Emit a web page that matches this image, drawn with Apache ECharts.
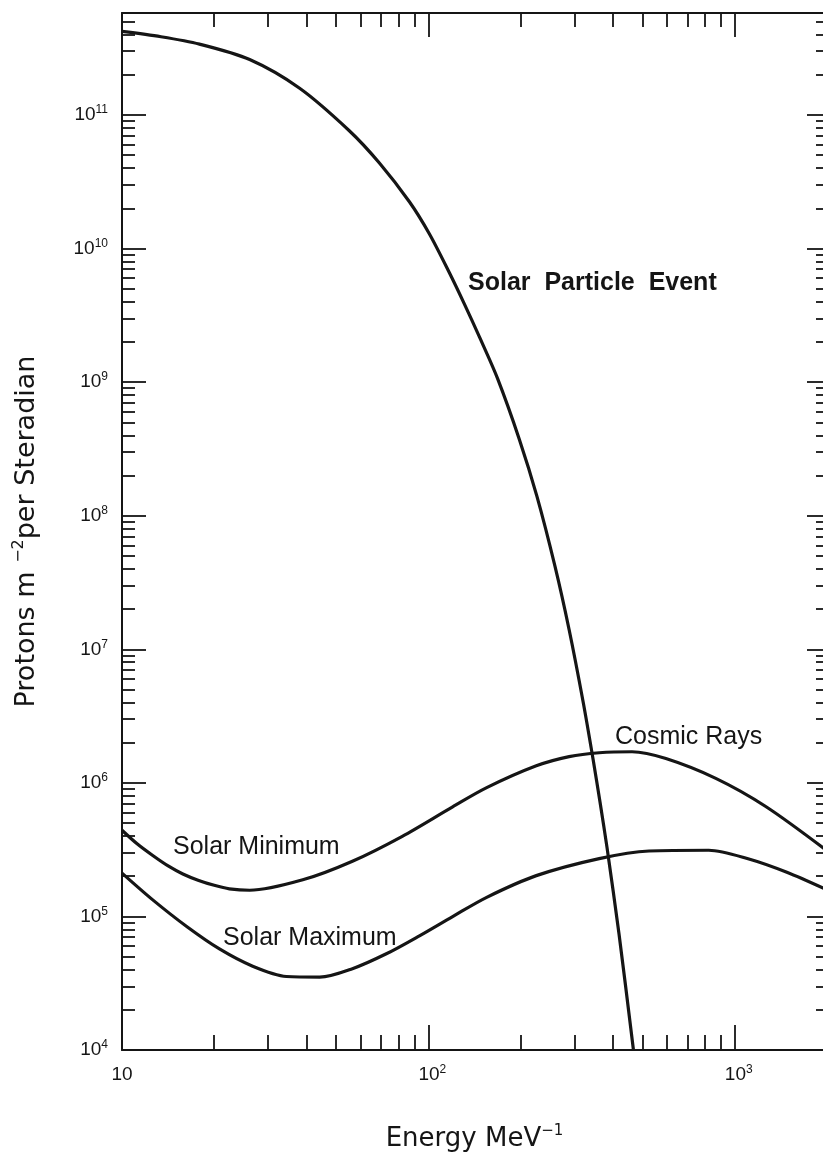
<!DOCTYPE html>
<html><head><meta charset="utf-8">
<script src="https://cdn.jsdelivr.net/npm/echarts@6/dist/echarts.min.js"></script>
<style>html,body{margin:0;padding:0;background:#fff}#c{width:823px;height:1154px}</style>
</head><body><div id="c"></div>
<script>
// ---- data ----
const spEnergy = [10, 13.4, 17.9, 26.1, 38.0, 55.3, 69.2, 86.7, 100.7, 117, 131, 147, 168, 198, 226, 259, 288, 320, 345, 363, 383, 419, 467];
const spFlux   = [4.22e11, 3.85e11, 3.39e11, 2.60e11, 1.585e11, 7.59e10, 4.37e10, 2.24e10, 1.29e10, 6.61e9, 3.85e9, 2.16e9, 1.07e9, 3.74e8, 1.40e8, 4.17e7, 1.40e7, 4.03e6, 1.49e6, 7.24e5, 3.26e5, 7.38e4, 1.0e4];

const minEnergy = [10, 11.2, 12.6, 14.1, 15.8, 17.8, 20.0, 22.4, 26.1, 38.9, 56.5, 82.2, 120, 155, 225, 288, 361, 462, 596, 867, 1262, 2000];
const minFlux   = [4.42e5, 3.50e5, 2.86e5, 2.40e5, 2.08e5, 1.86e5, 1.71e5, 1.61e5, 1.57e5, 1.88e5, 2.59e5, 3.98e5, 6.61e5, 9.20e5, 1.34e6, 1.57e6, 1.68e6, 1.71e6, 1.52e6, 1.08e6, 6.65e5, 3.10e5];

const maxEnergy = [10, 12.6, 16.3, 20.8, 26.7, 34.4, 44.2, 56.5, 72.9, 93.5, 120, 155, 225, 361, 525, 822, 1112, 1479, 2000];
const maxFlux   = [2.11e5, 1.33e5, 8.37e4, 5.71e4, 4.24e4, 3.55e4, 3.51e4, 4.06e4, 5.25e4, 7.16e4, 9.98e4, 1.39e5, 2.02e5, 2.71e5, 3.09e5, 3.13e5, 2.69e5, 2.14e5, 1.58e5];

const xLabelValues = [10, 100, 1000];
const xMajorTicks  = [100, 1000];
const xMinorTicks  = [20, 30, 40, 50, 60, 70, 80, 90, 200, 300, 400, 500, 600, 700, 800, 900];
const yLabelValues = [1e4, 1e5, 1e6, 1e7, 1e8, 1e9, 1e10, 1e11];
const yMajorTicks  = [1e5, 1e6, 1e7, 1e8, 1e9, 1e10, 1e11];
const yMinorMult   = [2, 3, 4, 5, 6, 7, 8, 9];
const xMin = 10, xMax = 2000, yMin = 1e4, yMax = 5.8e11;

const seriesNames = ['Solar Particle Event', 'Cosmic Rays (Solar Minimum)', 'Solar Maximum'];
const labelTexts = { spe: 'Solar  Particle  Event', cosmic: 'Cosmic Rays', smin: 'Solar Minimum', smax: 'Solar Maximum' };
const xTitle = 'Energy MeV';
const xTitleSup = '−1';
const yTitleA = 'Protons m ';
const yTitleSup = '−2';
const yTitleB = 'per Steradian';

// ---- build ----
const yMinorTicks = [];
yLabelValues.forEach(d => yMinorMult.forEach(k => { const v = k * d; if (v < yMax) yMinorTicks.push(v); }));

const INK = '#151515';
const zip = (a, b) => a.map((v, i) => [v, b[i]]);
const tickFont = '"Liberation Sans", Arial, sans-serif';
const richTick = {
  b:  { fontSize: 19, fontFamily: tickFont, color: INK, lineHeight: 22 },
  bp: { fontSize: 19, fontFamily: tickFont, color: INK, lineHeight: 22, padding: [0, 0, 0, 8] },
  s:  { fontSize: 12, fontFamily: tickFont, color: INK, lineHeight: 12, verticalAlign: 'top' }
};
const expOf = v => Math.round(Math.log10(v));

function axisCommon() {
  return { type: 'log', logBase: 10, splitLine: { show: false }, minorTick: { show: false }, minorSplitLine: { show: false } };
}
function xAx(pos, ticks, len, showLine, labels) {
  return Object.assign(axisCommon(), {
    position: pos, min: xMin, max: xMax, gridIndex: 0,
    axisLine: { show: showLine, onZero: false, lineStyle: { color: INK, width: 2 } },
    axisTick: { show: true, inside: true, length: len, customValues: ticks, lineStyle: { color: INK, width: 1.8 } },
    axisLabel: labels ? {
      show: true, margin: 14, customValues: labels, rich: richTick,
      formatter: v => v === 10 ? '{b|10}' : '{bp|10}{s|' + expOf(v) + '}'
    } : { show: false },
    axisPointer: { show: false }
  });
}
function yAx(pos, ticks, len, showLine, labels) {
  return Object.assign(axisCommon(), {
    position: pos, min: yMin, max: yMax, gridIndex: 0,
    axisLine: { show: showLine, onZero: false, lineStyle: { color: INK, width: 2 } },
    axisTick: { show: true, inside: true, length: len, customValues: ticks, lineStyle: { color: INK, width: 1.8 } },
    axisLabel: labels ? {
      show: true, margin: 14, customValues: labels, rich: richTick,
      formatter: v => '{b|10}{s|' + expOf(v) + '}'
    } : { show: false },
    axisPointer: { show: false }
  });
}

const xMain = xAx('bottom', xMajorTicks, 25, true, xLabelValues);
xMain.name = '{t|' + xTitle + '}{u|' + xTitleSup + '}';
xMain.nameLocation = 'middle';
xMain.nameGap = 74;
xMain.nameTextStyle = { rich: {
  t: { fontSize: 26, fontFamily: '"DejaVu Sans", sans-serif', color: INK, lineHeight: 30 },
  u: { fontSize: 15, fontFamily: '"DejaVu Sans", sans-serif', color: INK, lineHeight: 15, verticalAlign: 'top' }
}};

const yMain = yAx('left', yMajorTicks, 24, true, yLabelValues);
yMain.name = '{t|' + yTitleA + '}{u|' + yTitleSup + '}{t|' + yTitleB + '}';
yMain.nameLocation = 'middle';
yMain.nameRotate = 90;
yMain.nameGap = 79;
yMain.nameTextStyle = { rich: {
  t: { fontSize: 27, fontFamily: '"DejaVu Sans", sans-serif', color: INK, lineHeight: 32 },
  u: { fontSize: 16, fontFamily: '"DejaVu Sans", sans-serif', color: INK, lineHeight: 16, verticalAlign: 'top' }
}};

const lineStyle = { color: INK, width: 3.2 };
function curve(name, e, f) {
  return { name, type: 'line', xAxisIndex: 0, yAxisIndex: 0, data: zip(e, f), smooth: 0.3,
    showSymbol: false, symbol: 'none', lineStyle, clip: true, silent: true };
}

const labelFont = '"Liberation Sans", Arial, sans-serif';
const option = {
  backgroundColor: '#ffffff',
  animation: false,
  grid: { left: 122, top: 13, width: 705, height: 1037, containLabel: false, outerBoundsMode: 'none' },
  xAxis: [
    xMain,
    xAx('bottom', xMinorTicks, 15, false, null),
    xAx('top', xMajorTicks, 24, true, null),
    xAx('top', xMinorTicks, 14, false, null)
  ],
  yAxis: [
    yMain,
    yAx('left', yMinorTicks, 13, false, null),
    yAx('right', yMajorTicks, 20, true, null),
    yAx('right', yMinorTicks, 11, false, null)
  ],
  series: [
    curve(seriesNames[0], spEnergy, spFlux),
    curve(seriesNames[1], minEnergy, minFlux),
    curve(seriesNames[2], maxEnergy, maxFlux)
  ],
  graphic: [
    { type: 'text', x: 468, y: 283, style: { text: labelTexts.spe, font: 'bold 25px ' + labelFont, fill: INK, verticalAlign: 'middle' } },
    { type: 'text', x: 615, y: 737, style: { text: labelTexts.cosmic, font: '25px ' + labelFont, fill: INK, verticalAlign: 'middle' } },
    { type: 'text', x: 173, y: 847, style: { text: labelTexts.smin, font: '25px ' + labelFont, fill: INK, verticalAlign: 'middle' } },
    { type: 'text', x: 223, y: 938, style: { text: labelTexts.smax, font: '25px ' + labelFont, fill: INK, verticalAlign: 'middle' } }
  ]
};
const chart = echarts.init(document.getElementById('c'), null, { renderer: 'canvas' });
chart.setOption(option);
</script>
</body></html>
